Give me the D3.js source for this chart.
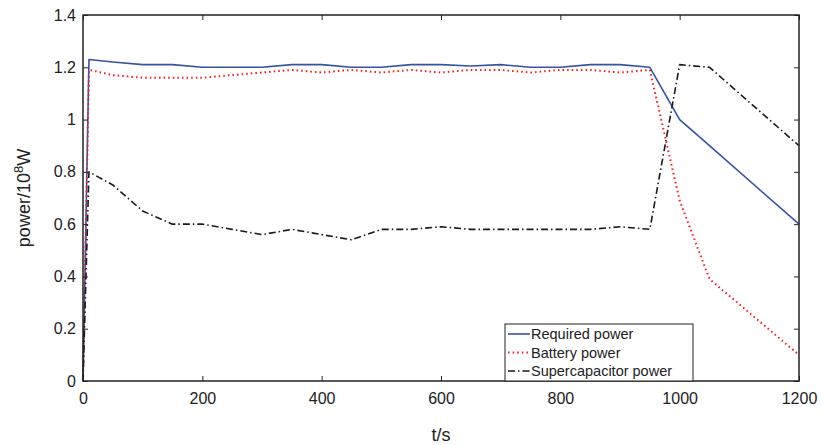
<!DOCTYPE html>
<html lang="en">
	<head>
		<meta charset="utf-8">
		<title>Power distribution</title>
		<script type="text/javascript" src="https://cdn.jsdelivr.net/npm/d3@7/dist/d3.min.js"></script>
		<style type="text/css">
		body {
			margin: 0;
			background-color: white;
		}
		text {
			font-family: "Liberation Sans", Arial, Helvetica, sans-serif;
			fill: #222;
		}
		</style>
	</head>
	<body>
		<script type="text/javascript">

			//Time points (s)
			var timeSteps = [0, 10, 50, 100, 150, 200, 250, 300, 350, 400, 450, 500, 550, 600,
				650, 700, 750, 800, 850, 900, 950, 1000, 1050, 1200];

			//Series values (10^8 W)
			var requiredPower = [0, 1.23, 1.22, 1.21, 1.21, 1.20, 1.20, 1.20, 1.21, 1.21, 1.20, 1.20, 1.21, 1.21,
				1.205, 1.21, 1.20, 1.20, 1.21, 1.21, 1.20, 1.00, 0.90, 0.60];
			var batteryPower = [0, 1.19, 1.17, 1.16, 1.16, 1.16, 1.17, 1.18, 1.19, 1.18, 1.19, 1.18, 1.19, 1.18,
				1.19, 1.19, 1.18, 1.19, 1.19, 1.18, 1.19, 0.69, 0.39, 0.10];
			var superPower = [0, 0.80, 0.75, 0.65, 0.60, 0.60, 0.58, 0.56, 0.58, 0.56, 0.54, 0.58, 0.58, 0.59,
				0.58, 0.58, 0.58, 0.58, 0.58, 0.59, 0.58, 1.21, 1.20, 0.90];

			var seriesNames = ["Required power", "Battery power", "Supercapacitor power"];

			//Tick labels
			var xTicks = [0, 200, 400, 600, 800, 1000, 1200];
			var yTicks = [0, 0.2, 0.4, 0.6, 0.8, 1, 1.2, 1.4];

			var w = 822;
			var h = 445;

			//Plot box
			var boxLeft = 83, boxRight = 799, boxTop = 15, boxBottom = 381;

			var xScale = d3.scaleLinear()
							.domain([0, 1200])
							.range([boxLeft, boxRight]);

			var yScale = d3.scaleLinear()
							.domain([0, 1.4])
							.range([boxBottom, boxTop]);

			var svg = d3.select("body")
						.append("svg")
						.attr("width", w)
						.attr("height", h);

			var series = [
				{name: seriesNames[0], values: requiredPower, color: "#3653a3", dash: null, width: 1.6},
				{name: seriesNames[1], values: batteryPower, color: "#f0262b", dash: "1.6,3", width: 2},
				{name: seriesNames[2], values: superPower, color: "#1a1a1a", dash: "7,3,1.5,3", width: 1.6}
			];

			var line = d3.line()
						.x(function(d) { return xScale(d[0]); })
						.y(function(d) { return yScale(d[1]); });

			series.forEach(function(s){
				svg.append("path")
					.datum(timeSteps.map(function(t, i){ return [t, s.values[i]]; }))
					.attr("d", line)
					.attr("fill", "none")
					.attr("stroke", s.color)
					.attr("stroke-width", s.width)
					.attr("stroke-dasharray", s.dash)
					.attr("stroke-linejoin", "round");
			});

			//Axes, ticks inside on all four sides
			var tickLen = 5;
			var xAxisB = d3.axisBottom(xScale).tickValues(xTicks).tickSizeInner(-tickLen).tickSizeOuter(0).tickPadding(12).tickFormat(d3.format("d"));
			var xAxisT = d3.axisTop(xScale).tickValues(xTicks).tickSizeInner(-tickLen).tickSizeOuter(0).tickFormat("");
			var yAxisL = d3.axisLeft(yScale).tickValues(yTicks).tickSizeInner(-tickLen).tickSizeOuter(0).tickPadding(7).tickFormat(function(d){ return d3.format("")(+d.toFixed(1)); });
			var yAxisR = d3.axisRight(yScale).tickValues(yTicks).tickSizeInner(-tickLen).tickSizeOuter(0).tickFormat("");

			var gB = svg.append("g").attr("transform", "translate(0," + boxBottom + ")").call(xAxisB);
			var gT = svg.append("g").attr("transform", "translate(0," + boxTop + ")").call(xAxisT);
			var gL = svg.append("g").attr("transform", "translate(" + boxLeft + ",0)").call(yAxisL);
			var gR = svg.append("g").attr("transform", "translate(" + boxRight + ",0)").call(yAxisR);

			[gB, gT, gL, gR].forEach(function(g){
				g.select(".domain").remove();
				g.selectAll(".tick line").attr("stroke", "#222").attr("stroke-width", 1);
				g.selectAll("text").style("font-size", "16px").attr("fill", "#222");
			});

			//Box
			svg.append("rect")
				.attr("x", boxLeft)
				.attr("y", boxTop)
				.attr("width", boxRight - boxLeft)
				.attr("height", boxBottom - boxTop)
				.attr("fill", "none")
				.attr("stroke", "#222")
				.attr("stroke-width", 1.5);

			//Axis titles
			svg.append("text")
				.attr("x", (boxLeft + boxRight) / 2)
				.attr("y", 441)
				.attr("text-anchor", "middle")
				.style("font-size", "18px")
				.text("t/s");

			var yTitle = svg.append("text")
				.attr("transform", "translate(30,198) rotate(-90)")
				.attr("text-anchor", "middle")
				.style("font-size", "18px");
			yTitle.append("tspan").text("power/10");
			yTitle.append("tspan").attr("dy", -7).style("font-size", "13px").text("8");
			yTitle.append("tspan").attr("dy", 7).text("W");

			//Legend
			var legend = svg.append("g");
			legend.append("rect")
				.attr("x", 505)
				.attr("y", 324)
				.attr("width", 188)
				.attr("height", boxBottom - 324)
				.attr("fill", "white")
				.attr("stroke", "#222")
				.attr("stroke-width", 1);

			series.forEach(function(s, i){
				var ly = 334 + i * 18.5;
				legend.append("line")
					.attr("x1", 508)
					.attr("x2", 530)
					.attr("y1", ly)
					.attr("y2", ly)
					.attr("stroke", s.color)
					.attr("stroke-width", s.width)
					.attr("stroke-dasharray", s.dash);
				legend.append("text")
					.attr("x", 531)
					.attr("y", ly + 5)
					.style("font-size", "14.5px")
					.text(s.name);
			});

		</script>
	</body>
</html>
